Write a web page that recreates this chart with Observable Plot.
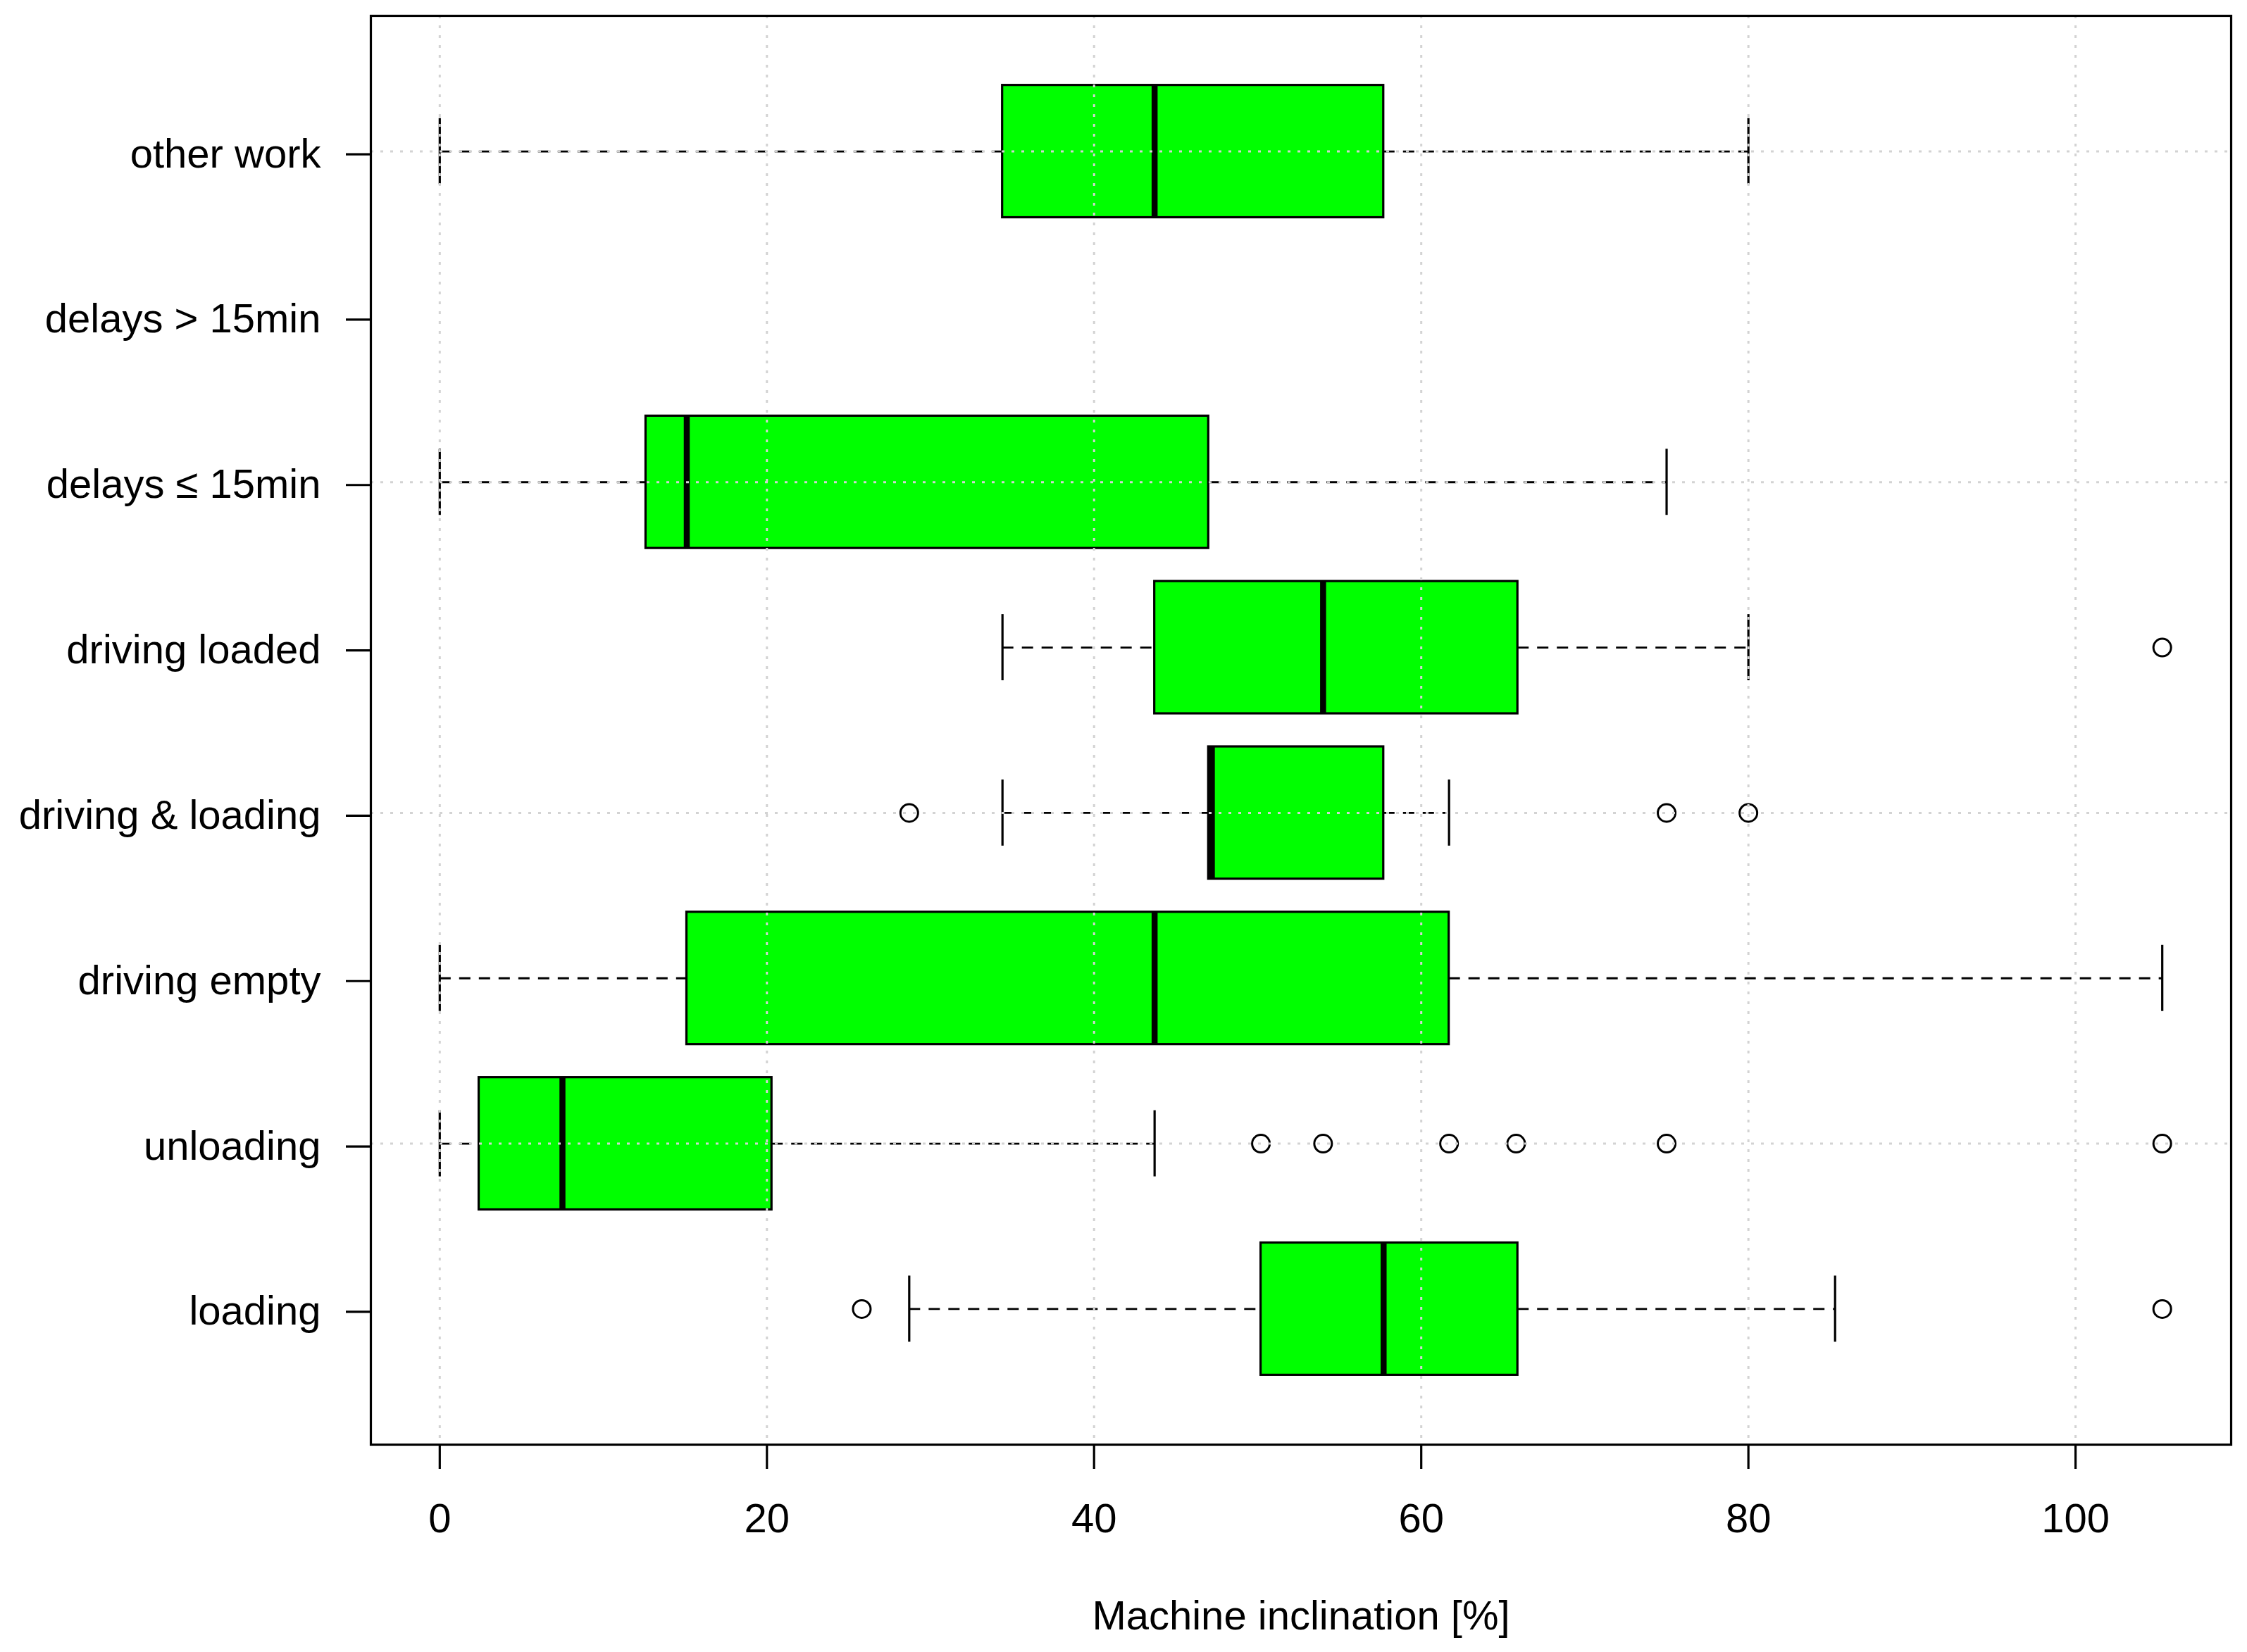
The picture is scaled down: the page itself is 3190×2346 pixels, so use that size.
<!DOCTYPE html>
<html>
<head>
<meta charset="utf-8">
<script src="https://cdn.jsdelivr.net/npm/d3@7"></script>
<script src="https://cdn.jsdelivr.net/npm/@observablehq/plot@0.6"></script>
<style>
  html, body { margin: 0; padding: 0; background: #ffffff; }
  svg { display: block; }
</style>
</head>
<body>
<div id="chart"></div>
<script>
// Categories, bottom to top
const categories = ["loading", "unloading", "driving empty", "driving & loading", "driving loaded", "delays ≤ 15min", "delays > 15min", "other work"];
const whiskerLow  = [28.7,  0.0,   0.0, 34.4, 34.4,  0.0, null,  0.0];
const quartile1   = [50.2,  2.4,  15.1, 47.0, 43.7, 12.6, null, 34.4];
const medians     = [57.7,  7.5,  43.7, 47.2, 54.0, 15.1, null, 43.7];
const quartile3   = [65.9, 20.3,  61.7, 57.7, 65.9, 47.0, null, 57.7];
const whiskerHigh = [85.3, 43.7, 105.3, 61.7, 80.0, 75.0, null, 80.0];

const outlierCategory = ["loading", "loading",
  "unloading", "unloading", "unloading", "unloading", "unloading", "unloading",
  "driving & loading", "driving & loading", "driving & loading",
  "driving loaded"];
const outlierValue = [25.8, 105.3,
  50.2, 54.0, 61.7, 65.8, 75.0, 105.3,
  28.7, 75.0, 80.0,
  105.3];

const xTicks = [0, 20, 40, 60, 80, 100];
const yGrid = [2, 4, 6, 8];
const xLabel = "Machine inclination [%]";

// Build tables
const boxes = categories.map((c, i) => ({
  cat: c, pos: i + 1,
  lo: whiskerLow[i], q1: quartile1[i], med: medians[i], q3: quartile3[i], hi: whiskerHigh[i]
})).filter(d => d.med != null);
const outliers = outlierCategory.map((c, i) => ({pos: categories.indexOf(c) + 1, v: outlierValue[i]}));

// R-style 4% extension of data range
const allVals = [...boxes.flatMap(d => [d.lo, d.hi]), ...outlierValue];
const xmin = d3.min(allVals), xmax = d3.max(allVals);
const xspan = xmax - xmin;
const nCat = categories.length;
const yspan = nCat;
const lw = 3.2;
const font = "'Liberation Sans', Arial, sans-serif";

const chart = Plot.plot({
  width: 3190,
  height: 2346,
  marginLeft: 526,
  marginRight: 23,
  marginTop: 22,
  marginBottom: 295,
  style: {fontFamily: font, fontSize: "58px", background: "#ffffff", color: "#000000"},
  x: {domain: [xmin - 0.04 * xspan, xmax + 0.04 * xspan]},
  y: {domain: [0.5 - 0.04 * yspan, nCat + 0.5 + 0.04 * yspan]},
  marks: [
    // whiskers
    Plot.ruleY(boxes, {y: "pos", x1: "lo", x2: "q1", stroke: "#000", strokeWidth: 2.8, strokeDasharray: "16,12"}),
    Plot.ruleY(boxes, {y: "pos", x1: "q3", x2: "hi", stroke: "#000", strokeWidth: 2.8, strokeDasharray: "16,12"}),
    // staples
    Plot.ruleX(boxes, {x: "lo", y1: d => d.pos - 0.2, y2: d => d.pos + 0.2, stroke: "#000", strokeWidth: lw}),
    Plot.ruleX(boxes, {x: "hi", y1: d => d.pos - 0.2, y2: d => d.pos + 0.2, stroke: "#000", strokeWidth: lw}),
    // boxes
    Plot.rect(boxes, {x1: "q1", x2: "q3", y1: d => d.pos - 0.4, y2: d => d.pos + 0.4, fill: "#00ff00", stroke: "#000", strokeWidth: lw}),
    // medians
    Plot.ruleX(boxes, {x: "med", y1: d => d.pos - 0.4, y2: d => d.pos + 0.4, stroke: "#000", strokeWidth: 8.5}),
    // outliers
    Plot.dot(outliers, {x: "v", y: "pos", r: 12.5, stroke: "#000", strokeWidth: 3, fill: "none"}),
    // grid on top (R grid())
    Plot.gridX(xTicks, {stroke: "#d3d3d3", strokeOpacity: 1, strokeWidth: 3, strokeDasharray: "4,10"}),
    Plot.gridY(yGrid, {stroke: "#d3d3d3", strokeOpacity: 1, strokeWidth: 3, strokeDasharray: "4,10"}),
    // frame and axes
    Plot.frame({stroke: "#000", strokeWidth: lw}),
    Plot.axisX({ticks: xTicks, tickSize: 35, tickPadding: 48, strokeWidth: lw, fontSize: 58, label: null, tickFormat: d => String(d)}),
    Plot.axisY({ticks: categories.map((_, i) => i + 1), tickFormat: d => categories[d - 1], tickSize: 35, tickPadding: 36, strokeWidth: lw, fontSize: 58, label: null, dy: 4}),
    Plot.text([xLabel], {text: d => d, frameAnchor: "bottom", dy: 262, fontSize: 58, fill: "#000"})
  ]
});
document.getElementById("chart").appendChild(chart);
</script>
</body>
</html>
